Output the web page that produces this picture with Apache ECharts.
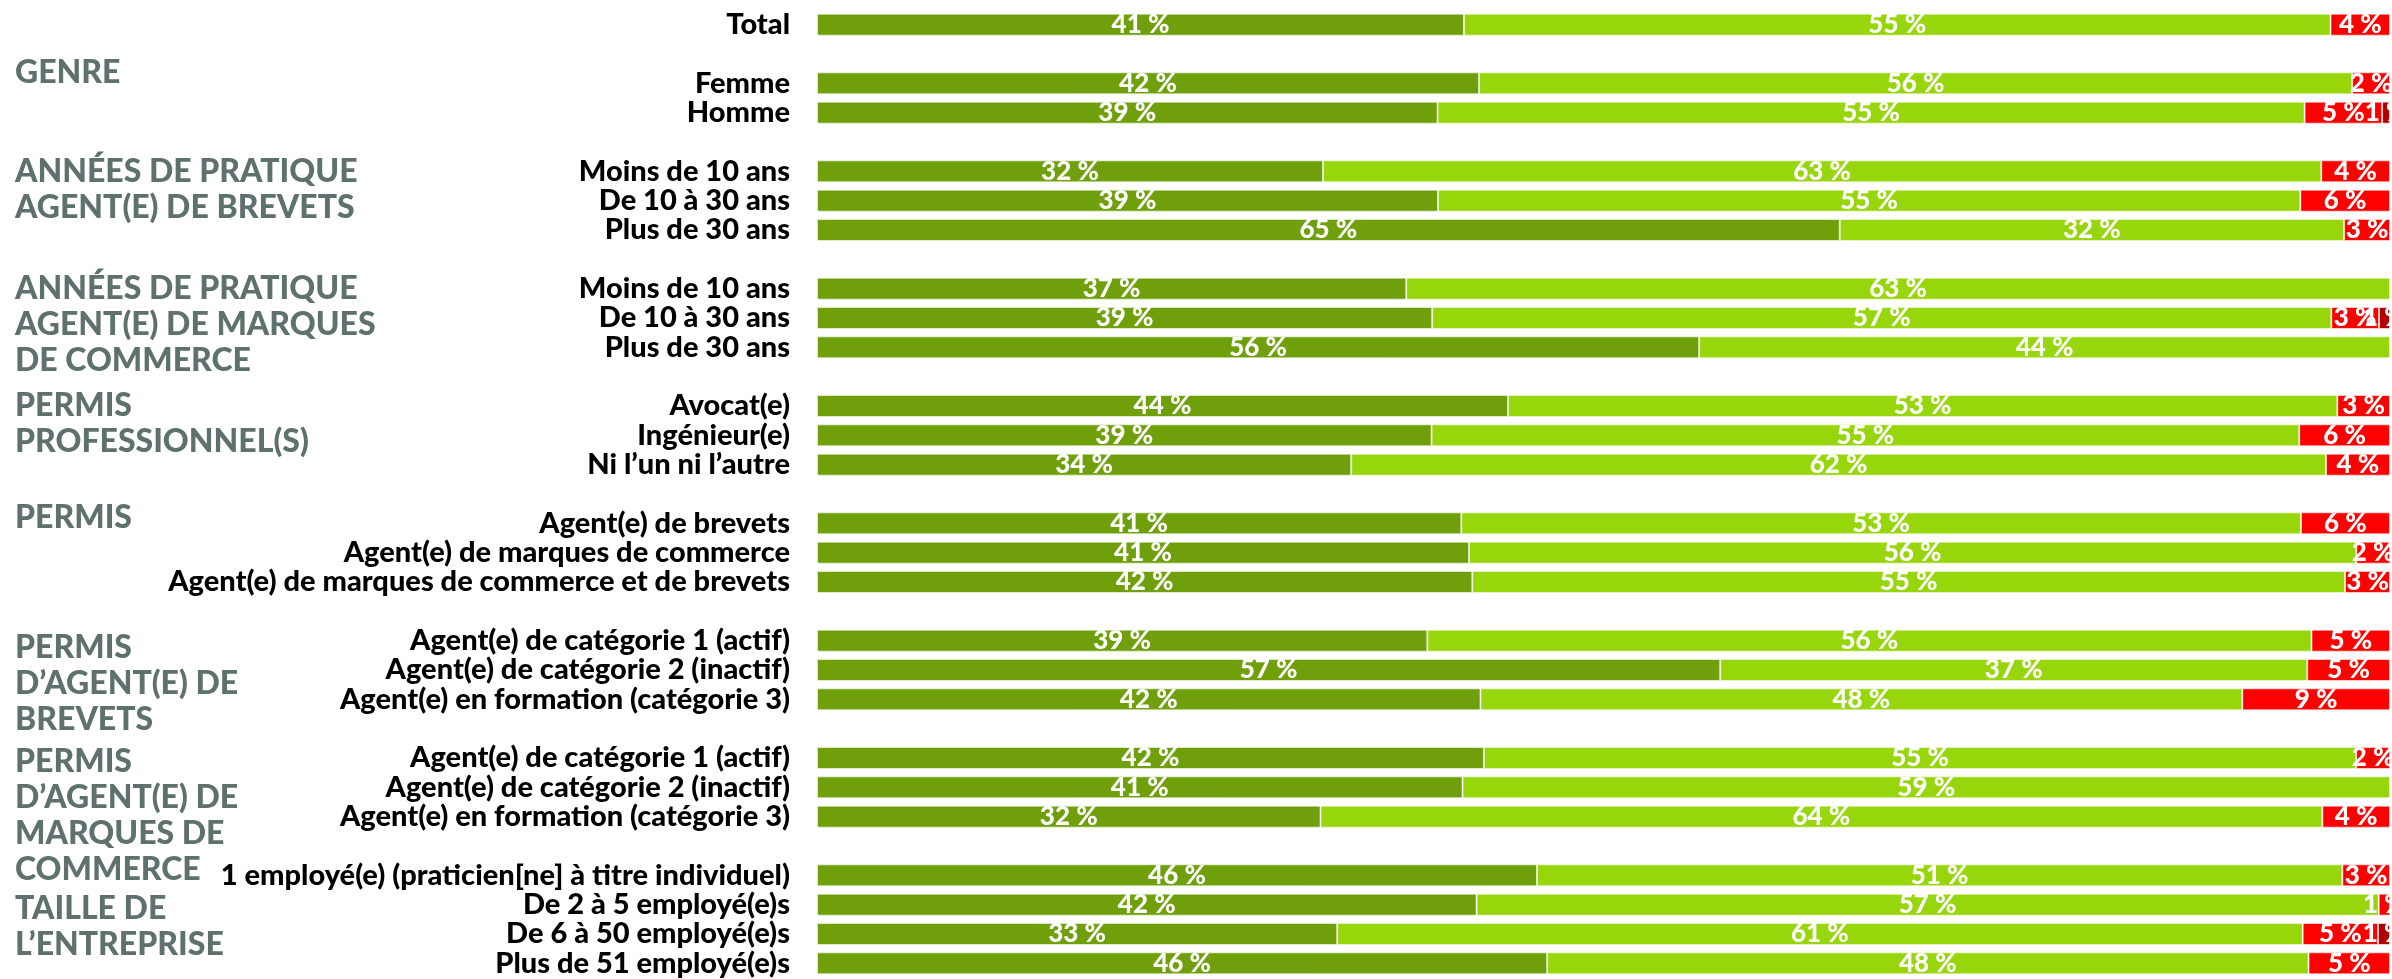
<!DOCTYPE html>
<html>
<head>
<meta charset="utf-8">
<script src="https://cdn.jsdelivr.net/npm/echarts@6/dist/echarts.min.js"></script>
<style>
html,body{margin:0;padding:0;background:#fff;}
#chart{width:2392px;height:979px;}
</style>
</head>
<body>
<div id="chart"></div>
<script>
// ---- data ----
const categories = [
  'Total', '',
  'Femme', 'Homme', '',
  'Moins de 10 ans', 'De 10 à 30 ans', 'Plus de 30 ans', '',
  'Moins de 10 ans', 'De 10 à 30 ans', 'Plus de 30 ans', '',
  'Avocat(e)', 'Ingénieur(e)', 'Ni l’un ni l’autre', '',
  'Agent(e) de brevets', 'Agent(e) de marques de commerce', 'Agent(e) de marques de commerce et de brevets', '',
  'Agent(e) de catégorie 1 (actif)', 'Agent(e) de catégorie 2 (inactif)', 'Agent(e) en formation (catégorie 3)', '',
  'Agent(e) de catégorie 1 (actif)', 'Agent(e) de catégorie 2 (inactif)', 'Agent(e) en formation (catégorie 3)', '',
  '1 employé(e) (praticien[ne] à titre individuel)', 'De 2 à 5 employé(e)s', 'De 6 à 50 employé(e)s', 'Plus de 51 employé(e)s'
];
const seriesNames = ['Très satisfait(e)', 'Satisfait(e)', 'Insatisfait(e)', 'Très insatisfait(e)'];
const darkGreen  = [41.13, null, 42.09, 39.45, null, 32.17, 39.48, 65.02, null, 37.46, 39.11, 56.08, null, 43.93, 39.07, 33.96, null, 40.96, 41.45, 41.66, null, 38.80, 57.42, 42.18, null, 42.40, 41.04, 32.01, null, 45.77, 41.93, 33.07, 46.42];
const lightGreen = [55.09, null, 55.51, 55.12, null, 63.46, 54.82, 32.06, null, 62.54, 57.16, 43.92, null, 52.72, 55.16, 61.97, null, 53.38, 56.41, 55.48, null, 56.21, 37.32, 48.43, null, 55.45, 58.96, 63.69, null, 51.20, 57.35, 61.38, 48.40];
const red        = [3.78, null, 2.40, 4.93, null, 4.37, 5.70, 2.92, null, 0, 3.03, 0, null, 3.35, 5.77, 4.07, null, 5.66, 2.14, 2.86, null, 4.99, 5.26, 9.39, null, 2.15, 0, 4.30, null, 3.03, 0.72, 4.79, 5.18];
const darkRed    = [0, null, 0, 0.5, null, 0, 0, 0, null, 0, 0.70, 0, null, 0, 0, 0, null, 0, 0, 0, null, 0, 0, 0, null, 0, 0, 0, null, 0, 0, 0.76, 0];

const groupTitles = [
  'GENRE',
  'ANNÉES DE PRATIQUE\nAGENT(E) DE BREVETS',
  'ANNÉES DE PRATIQUE\nAGENT(E) DE MARQUES\nDE COMMERCE',
  'PERMIS\nPROFESSIONNEL(S)',
  'PERMIS',
  'PERMIS\nD’AGENT(E) DE\nBREVETS',
  'PERMIS\nD’AGENT(E) DE\nMARQUES DE\nCOMMERCE',
  'TAILLE DE\nL’ENTREPRISE'
];
// category row each title is aligned with
const groupAnchors = [2, 5, 9, 13, 17, 21, 25, 30];

// ---- layout / style ----
const groupNudge = [-11, 0, 0, 0, -6, 7, 4, 4];
const colors = ['#6FA00B', '#97D60B', '#FF0000', '#B20000'];
const FONT = 'Lato';

const chart = echarts.init(document.getElementById('chart'), null, {renderer: 'canvas'});

function mk(i, arr) {
  return {
    name: seriesNames[i],
    type: 'bar',
    stack: 'total',
    barCategoryGap: '25%',
    data: arr.map(v => (v === 0 || v === null) ? '-' : v),
    itemStyle: {color: colors[i], borderColor: 'rgba(255,255,255,0.55)', borderWidth: 1},
    label: {
      show: true,
      position: 'inside',
      color: '#fff',
      fontFamily: FONT,
      fontWeight: 900,
      fontSize: 26,
      formatter: p => (typeof p.value === 'number' && p.value > 0) ? Math.round(p.value) + ' %' : ''
    }
  };
}

chart.setOption({
  animation: false,
  grid: {left: 817, right: 2, top: 10, bottom: 1},
  xAxis: {type: 'value', min: 0, max: 100, show: false},
  yAxis: {
    type: 'category',
    data: categories,
    inverse: true,
    axisLine: {show: false},
    axisTick: {show: false},
    splitLine: {show: false},
    axisLabel: {interval: 0, margin: 27, color: '#000', fontFamily: FONT, fontWeight: 900, fontSize: 29}
  },
  series: [mk(0, darkGreen), mk(1, lightGreen), mk(2, red), mk(3, darkRed)]
});

const LH = 36;
const gfx = groupTitles.map((t, i) => {
  const yc = chart.convertToPixel({yAxisIndex: 0}, groupAnchors[i]);
  return {
    type: 'text',
    x: 15,
    y: yc + groupNudge[i] - LH / 2,
    style: {text: t, fill: '#5F716E', font: '900 32px ' + FONT, lineHeight: LH}
  };
});
chart.setOption({graphic: gfx});
</script>
</body>
</html>
